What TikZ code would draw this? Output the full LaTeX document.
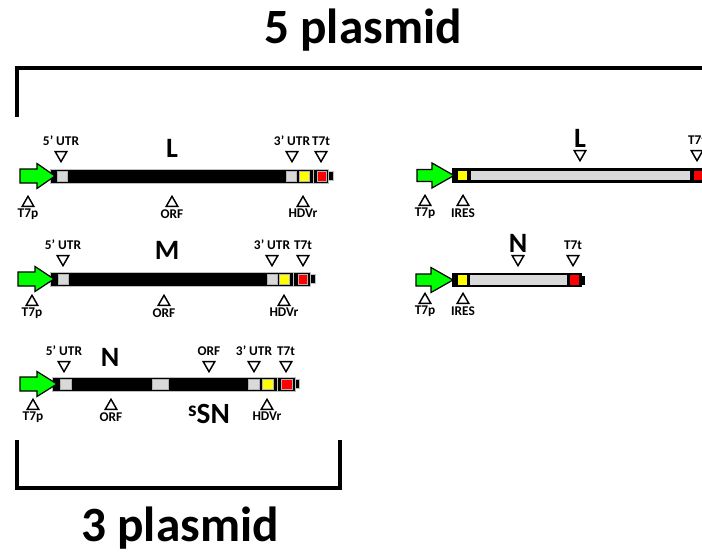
\documentclass[tikz,border=0pt]{standalone}
\usepackage{fontspec}
\setmainfont{Carlito}
\usetikzlibrary{positioning}
\usetikzlibrary{shapes.geometric}
\definecolor{PromGreen}{RGB}{0,255,0}
\definecolor{UtrGray}{RGB}{217,217,217}
\definecolor{HdvYellow}{RGB}{255,255,0}
\definecolor{TermRed}{RGB}{255,0,0}

\begin{document}
\begin{tikzpicture}[x=0.75pt, y=-0.75pt]
	\tikzstyle{dntri} = [draw, fill=white, line width=1.1pt, regular polygon, regular polygon sides=3, shape border rotate=180, minimum size=10pt, inner sep=0pt]
	\tikzstyle{uptri} = [dntri, shape border rotate=0]
	\tikzstyle{tag} = [inner sep=0.5pt, font=\fontsize{10}{11}\selectfont\bfseries]
	\tikzstyle{segname} = [inner sep=0pt, font=\fontsize{21}{22}\selectfont\bfseries]
	\tikzstyle{ttl} = [inner sep=0pt, anchor=base, font=\fontsize{37}{40}\selectfont\bfseries]
	\tikzstyle{promo} = [draw, fill=PromGreen, line width=0.9pt, line join=miter]
	\tikzstyle{bar} = [draw=gray!50, fill=black, line width=0.5pt]
	\tikzstyle{utr} = [draw=gray!60, fill=UtrGray, line width=0.5pt]
	\tikzstyle{hdv} = [draw=gray!60, fill=HdvYellow, line width=0.5pt]
	\tikzstyle{term} = [draw=gray!60, fill=TermRed, line width=0.5pt]
	\tikzstyle{ubox} = [draw, line width=1pt]
	\tikzstyle{bkt} = [line width=3pt]
	\clip (0,0) rectangle (702,553);

	% titles and brackets
	\node[ttl] (five) at (363,43) {5 plasmid};
	\node[ttl] (three) at (180,541) {3 plasmid};
	\draw[bkt] (17,117) -- (17,68) -- (712,68);
	\draw[bkt] (17,440) -- (17,488) -- (340,488) -- (340,440);

	% L segment, 3 plasmid
	\draw[bar] (50,169) rectangle (313,183);
	\draw[bar] (313,169) rectangle (328,183);
	\draw[bar] (328,171.5) rectangle (333,180.5);
	\draw[promo, shift={(20,176)}] (0,-7) -- (17,-7) -- (17,-12.5) -- (35,0) -- (17,12.5) -- (17,7) -- (0,7) -- cycle;
	\draw[utr] (57,171) rectangle (67,181);
	\draw[utr] (286,171) rectangle (296,181);
	\draw[hdv] (299,171) rectangle (309,181);
	\draw[term] (317,171) rectangle (326,181);
	\node[segname] (Lname) at (172,148) {L};
	\node[dntri] (Lutr5) at (61,155) {};
	\node[tag, above=3pt of Lutr5] (Lutr5t) {5' UTR};
	\node[dntri] (Lutr3) at (292,155) {};
	\node[tag, above=3pt of Lutr3] (Lutr3t) {3' UTR};
	\node[dntri] (Lterm) at (321,155) {};
	\node[tag, above=3pt of Lterm] (Ltermt) {T7t};
	\node[uptri] (Lprom) at (28,203) {};
	\node[tag, below=1pt of Lprom] (Lpromt) {T7p};
	\node[uptri] (Lorf) at (172,203) {};
	\node[tag, below=1pt of Lorf] (Lorft) {ORF};
	\node[uptri] (Lhdv) at (303,203) {};
	\node[tag, below=1pt of Lhdv] (Lhdvt) {HDVr};

	% M segment, 3 plasmid
	\draw[bar] (50,272) rectangle (293,286);
	\draw[bar] (293,272) rectangle (310,286);
	\draw[bar] (310,274.5) rectangle (315,283.5);
	\draw[promo, shift={(18,279)}] (0,-7) -- (17,-7) -- (17,-12.5) -- (36,0) -- (17,12.5) -- (17,7) -- (0,7) -- cycle;
	\draw[utr] (58,274) rectangle (68,284);
	\draw[utr] (267,274) rectangle (277,284);
	\draw[hdv] (279,274) rectangle (289,284);
	\draw[term] (298,274) rectangle (307,284);
	\node[segname] (Mname) at (167,250) {M};
	\node[dntri] (Mutr5) at (63,259) {};
	\node[tag, above=3pt of Mutr5] (Mutr5t) {5' UTR};
	\node[dntri] (Mutr3) at (272,259) {};
	\node[tag, above=3pt of Mutr3] (Mutr3t) {3' UTR};
	\node[dntri] (Mterm) at (303,259) {};
	\node[tag, above=3pt of Mterm] (Mtermt) {T7t};
	\node[uptri] (Mprom) at (32,302) {};
	\node[tag, below=1pt of Mprom] (Mpromt) {T7p};
	\node[uptri] (Morf) at (164,302) {};
	\node[tag, below=1pt of Morf] (Morft) {ORF};
	\node[uptri] (Mhdv) at (284,302) {};
	\node[tag, below=1pt of Mhdv] (Mhdvt) {HDVr};

	% N segment, 3 plasmid
	\draw[bar] (52,377) rectangle (277,391);
	\draw[bar] (277,377) rectangle (295,391);
	\draw[bar] (295,379.5) rectangle (299,388.5);
	\draw[promo, shift={(20,384)}] (0,-7) -- (17,-7) -- (17,-12.5) -- (37,0) -- (17,12.5) -- (17,7) -- (0,7) -- cycle;
	\draw[utr] (60,379) rectangle (71,389);
	\draw[utr] (152,379) rectangle (168,389);
	\draw[utr] (248,379) rectangle (259,389);
	\draw[hdv] (262,379) rectangle (273,389);
	\draw[term] (281,379) rectangle (292,389);
	\node[segname] (Nname) at (110,357) {N};
	\node[segname, font=\fontsize{22}{23}\selectfont\bfseries] (SNname) at (209,414) {{\fontsize{16}{16}\selectfont\raisebox{5pt}{s}}SN};
	\node[dntri] (Nutr5) at (64,365) {};
	\node[tag, above=3pt of Nutr5] (Nutr5t) {5' UTR};
	\node[dntri] (Norf2) at (209,365) {};
	\node[tag, above=3pt of Norf2] (Norf2t) {ORF};
	\node[dntri] (Nutr3) at (254,365) {};
	\node[tag, above=3pt of Nutr3] (Nutr3t) {3' UTR};
	\node[dntri] (Nterm) at (286,365) {};
	\node[tag, above=3pt of Nterm] (Ntermt) {T7t};
	\node[uptri] (Nprom) at (33,406) {};
	\node[tag, below=1pt of Nprom] (Npromt) {T7p};
	\node[uptri] (Norf) at (111,406) {};
	\node[tag, below=1pt of Norf] (Norft) {ORF};
	\node[uptri] (Nhdv) at (267,406) {};
	\node[tag, below=1pt of Nhdv] (Nhdvt) {HDVr};

	% L segment, 5 plasmid
	\fill (452,168) rectangle (712,183);
	\draw[promo, shift={(417,175.5)}] (0,-6) -- (15,-6) -- (15,-12.5) -- (37,0) -- (15,12.5) -- (15,6) -- (0,6) -- cycle;
	\draw[ubox, fill=HdvYellow] (457,170) rectangle (468,181);
	\draw[ubox, fill=UtrGray] (470,170) rectangle (691,181);
	\draw[ubox, fill=TermRed] (693,170) rectangle (712,181);
	\node[dntri] (rLorf) at (580,154) {};
	\node[segname, above=2pt of rLorf] (rLname) {L};
	\node[dntri] (rLterm) at (697,154) {};
	\node[tag, above=3pt of rLterm] (rLtermt) {T7t};
	\node[uptri] (rLprom) at (425,202) {};
	\node[tag, below=1pt of rLprom] (rLpromt) {T7p};
	\node[uptri] (rLires) at (463,202) {};
	\node[tag, below=1pt of rLires] (rLirest) {IRES};

	% N segment, 5 plasmid
	\fill (452,273) rectangle (582,287);
	\fill (580,275.5) rectangle (585,284.5);
	\draw[promo, shift={(416,280)}] (0,-6) -- (15,-6) -- (15,-12.5) -- (37,0) -- (15,12.5) -- (15,6) -- (0,6) -- cycle;
	\draw[ubox, fill=HdvYellow] (457,274.5) rectangle (468,285.5);
	\draw[ubox, fill=UtrGray] (469,274.5) rectangle (568,285.5);
	\draw[ubox, fill=TermRed] (569,274.5) rectangle (580,285.5);
	\node[dntri] (rNorf) at (518,259) {};
	\node[segname, above=2pt of rNorf] (rNname) {N};
	\node[dntri] (rNterm) at (573,259) {};
	\node[tag, above=3pt of rNterm] (rNtermt) {T7t};
	\node[uptri] (rNprom) at (425,300) {};
	\node[tag, below=1pt of rNprom] (rNpromt) {T7p};
	\node[uptri] (rNires) at (463,300) {};
	\node[tag, below=1pt of rNires] (rNirest) {IRES};
\end{tikzpicture}
\end{document}
